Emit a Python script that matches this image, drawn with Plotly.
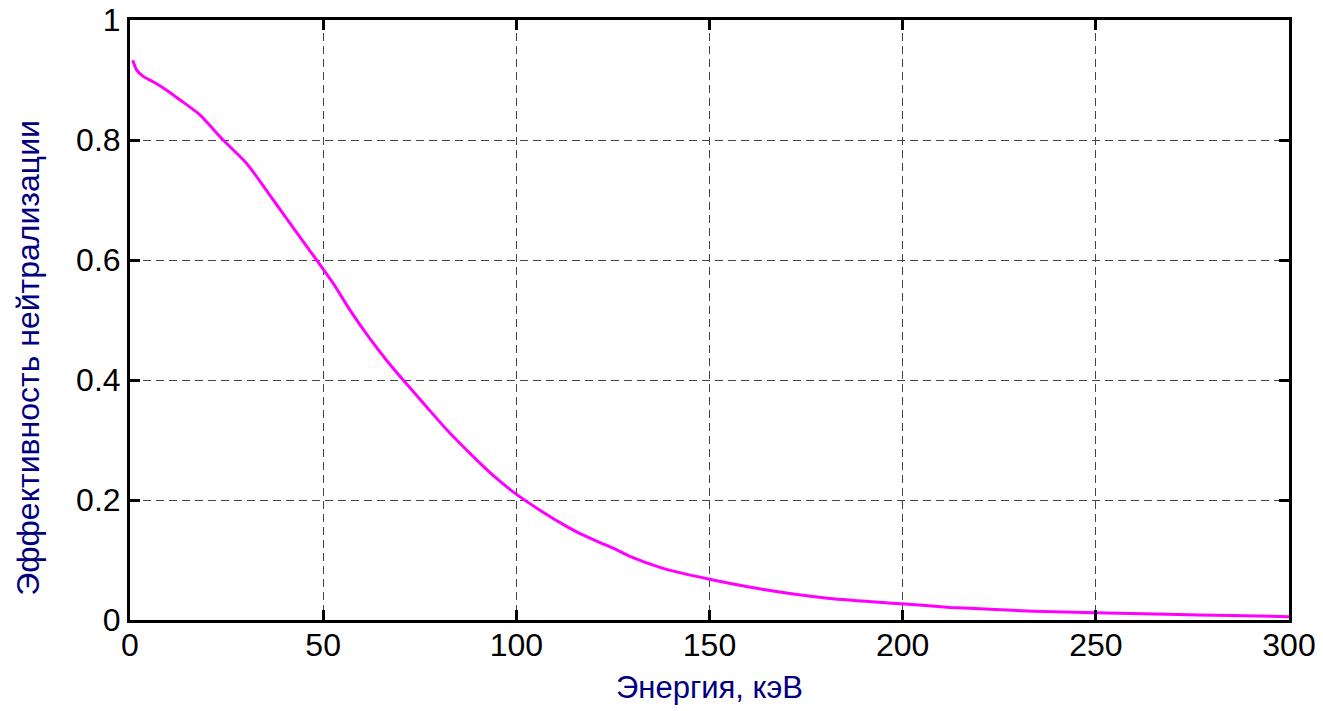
import plotly.graph_objects as go

energy = [0.7, 1.7, 3.4, 6.0, 9.5, 12.9, 18.1, 24.1, 30.2, 37.1, 44.0, 48.3, 52.6, 56.9, 62.1,
          66.4, 70.7, 76.8, 82.0, 89.7, 94.9, 99.7, 106.1, 113.0, 116.5, 121.7, 126.0, 129.4,
          138.0, 150.0, 164.0, 181.2, 199.8, 212.3, 222.6, 233.8, 249.8, 268.4, 285.0, 300.0]
efficiency = [0.933, 0.917, 0.906, 0.897, 0.883, 0.867, 0.842, 0.800, 0.761, 0.700, 0.638, 0.600,
              0.561, 0.517, 0.469, 0.433, 0.400, 0.355, 0.317, 0.267, 0.236, 0.211, 0.183, 0.156,
              0.144, 0.129, 0.117, 0.106, 0.086, 0.068, 0.051, 0.036, 0.027, 0.021, 0.018, 0.0145,
              0.012, 0.0095, 0.0075, 0.0055]

x_ticks = [0, 50, 100, 150, 200, 250, 300]
x_tick_labels = ["0", "50", "100", "150", "200", "250", "300"]
y_ticks = [0, 0.2, 0.4, 0.6, 0.8, 1.0]
y_tick_labels = ["0", "0.2", "0.4", "0.6", "0.8", "1"]

x_title = "Энергия, кэВ"
y_title = "Эффективность нейтрализации"

FONT = "Liberation Sans, Arial, sans-serif"

fig = go.Figure()
fig.add_trace(go.Scatter(x=energy, y=efficiency, mode="lines",
                         line=dict(color="#FF00FF", width=3, shape="spline", smoothing=0.6),
                         showlegend=False))

axis_common = dict(
    showline=True, linecolor="black", linewidth=3, mirror="allticks",
    ticks="inside", ticklen=10, tickwidth=3, tickcolor="black",
    showgrid=True, gridcolor="#444444", gridwidth=1, griddash="8px,5px",
    zeroline=False, automargin=False,
    tickfont=dict(family=FONT, size=32, color="black"),
)

fig.update_layout(
    width=1323, height=711,
    margin=dict(l=130, r=34, t=20, b=91),
    paper_bgcolor="white", plot_bgcolor="white",
    xaxis=dict(range=[0, 300], tickvals=x_ticks, ticktext=x_tick_labels,
               ticklabelstandoff=-5,
               title=dict(text=x_title, standoff=14,
                          font=dict(family=FONT, size=31, color="#000080")),
               **axis_common),
    yaxis=dict(range=[0, 1], tickvals=y_ticks, ticktext=y_tick_labels,
               **axis_common),
)

fig.add_annotation(text=y_title, textangle=-90, xref="paper", yref="paper",
                   x=-0.088, y=0.437, xanchor="center", yanchor="middle",
                   showarrow=False, font=dict(family=FONT, size=32, color="#000080"))

fig.write_html("out.html")
